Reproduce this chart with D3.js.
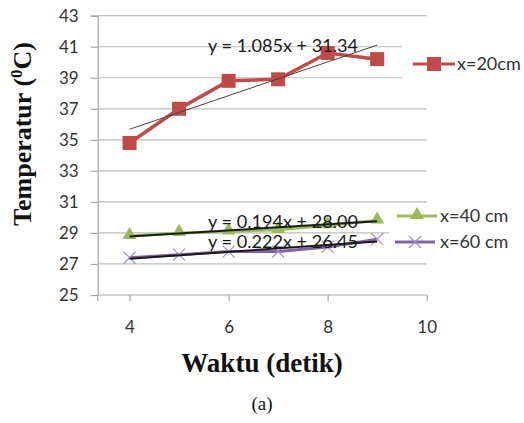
<!DOCTYPE html>
<html>
<head>
<meta charset="utf-8">
<script src="https://cdn.jsdelivr.net/npm/d3@7.9.0/dist/d3.min.js"></script>
<style>
  body { margin: 0; background: #fff; }
  svg { display: block; }
</style>
</head>
<body>
<svg id="chart" width="524" height="423"></svg>
<script>
// --- data ---
const times = [4, 5, 6, 7, 8, 9];
const temp20 = [34.8, 37.0, 38.8, 38.9, 40.6, 40.2];
const temp40 = [28.8, 29.0, 29.1, 29.2, 29.5, 29.8];
const temp60 = [27.4, 27.6, 27.8, 27.8, 28.1, 28.6];
const seriesNames = ['x=20cm', 'x=40 cm', 'x=60 cm'];
const trendSlopes = [1.085, 0.194, 0.222];
const trendIntercepts = [31.34, 28.00, 26.45];
const trendLabels = ['y = 1.085x + 31.34', 'y = 0.194x + 28.00', 'y = 0.222x + 26.45'];
const yTicks = [25, 27, 29, 31, 33, 35, 37, 39, 41, 43];
const xTicks = [4, 6, 8, 10];

const colors = ['#be4b48', '#9bbb59', '#8064a2'];
const svg = d3.select('#chart');

const plotLeft = 97.7, plotRight = 426.7, plotTop = 15.7, plotBottom = 295;
const x = d3.scaleLinear().domain([3.357, 10]).range([plotLeft, plotRight]);
const y = d3.scaleLinear().domain([25, 43]).range([plotBottom, plotTop]);

const tickFont = 'Lato, "Open Sans", sans-serif';

// gridlines
svg.append('g').selectAll('line')
  .data(yTicks.slice(1))
  .join('line')
  .attr('x1', plotLeft).attr('x2', plotRight)
  .attr('y1', d => y(d)).attr('y2', d => y(d))
  .attr('stroke', '#bdbdbd').attr('stroke-width', 1.2);

// y axis
const yAxis = svg.append('g')
  .attr('transform', `translate(${plotLeft},0)`)
  .call(d3.axisLeft(y).tickValues(yTicks).tickFormat(d3.format('d')).tickSize(7).tickPadding(12));
yAxis.select('.domain').attr('stroke', '#a6a6a6').attr('stroke-width', 1.2);
yAxis.selectAll('.tick line').attr('stroke', '#a6a6a6').attr('stroke-width', 1.2);
yAxis.selectAll('text').attr('font-family', tickFont).attr('font-size', 17).attr('fill', '#333');

// x axis
const xAxis = svg.append('g')
  .attr('transform', `translate(0,${plotBottom})`)
  .call(d3.axisBottom(x).tickValues(xTicks).tickFormat(d3.format('d')).tickSize(6).tickPadding(20).tickSizeOuter(0));
xAxis.select('.domain').attr('stroke', '#a6a6a6').attr('stroke-width', 1.2)
  .attr('d', `M${plotLeft},6V0H${plotRight}`);
xAxis.selectAll('.tick line').attr('stroke', '#a6a6a6').attr('stroke-width', 1.2);
xAxis.selectAll('text').attr('font-family', tickFont).attr('font-size', 17).attr('fill', '#333');

// white legend boxes that cover part of the gridlines
svg.append('rect').attr('x', 402).attr('y', 30).attr('width', 122).attr('height', 62).attr('fill', '#fff');
svg.append('rect').attr('x', 389).attr('y', 206).attr('width', 135).attr('height', 52).attr('fill', '#fff');

const series = [temp20, temp40, temp60].map((vals, i) => times.map((t, j) => [t, vals[j]]));

const line = d3.line().x(d => x(d[0])).y(d => y(d[1]));

// series lines
series.forEach((pts, i) => {
  svg.append('path')
    .datum(pts)
    .attr('d', line)
    .attr('fill', 'none')
    .attr('stroke', colors[i])
    .attr('stroke-width', i === 0 ? 3.5 : 3)
    .attr('stroke-linejoin', 'round');
});

// markers
const sq = d3.symbol().type(d3.symbolSquare).size(196);
const tri = d3.symbol().type(d3.symbolTriangle).size(85);
const cross = 'M-6,-6L6,6M-6,6L6,-6';
svg.append('g').selectAll('path')
  .data(series[0]).join('path')
  .attr('d', sq)
  .attr('transform', d => `translate(${x(d[0])},${y(d[1])})`)
  .attr('fill', colors[0]);
svg.append('g').selectAll('path')
  .data(series[1]).join('path')
  .attr('d', tri)
  .attr('transform', d => `translate(${x(d[0])},${y(d[1]) - 1})`)
  .attr('fill', colors[1]);
svg.append('g').selectAll('path')
  .data(series[2]).join('path')
  .attr('d', cross)
  .attr('transform', d => `translate(${x(d[0])},${y(d[1])})`)
  .attr('stroke', '#a48fc4').attr('stroke-width', 1.2).attr('fill', 'none');

// trendlines
trendSlopes.forEach((m, i) => {
  const pts = [4, 9].map(t => [t, m * t + trendIntercepts[i]]);
  svg.append('path')
    .datum(pts)
    .attr('d', line)
    .attr('stroke', i === 0 ? '#444' : '#1a1a1a')
    .attr('stroke-width', i === 0 ? 1 : 2)
    .attr('fill', 'none');
});

// trendline equations
const eqY = [52, 228, 248];
trendLabels.forEach((t, i) => {
  svg.append('text')
    .attr('x', 208).attr('y', eqY[i])
    .attr('font-family', tickFont).attr('font-size', 17).attr('fill', '#1a1a1a')
    .attr('textLength', 150).attr('lengthAdjust', 'spacingAndGlyphs')
    .text(t);
});

// legend
const legendRows = [
  { x1: 413, x2: 455, y: 64, tx: 457, ty: 70 },
  { x1: 397, x2: 437, y: 216, tx: 440, ty: 222 },
  { x1: 395, x2: 435, y: 242, tx: 440, ty: 248 }
];
legendRows.forEach((r, i) => {
  svg.append('line')
    .attr('x1', r.x1).attr('x2', r.x2).attr('y1', r.y).attr('y2', r.y)
    .attr('stroke', colors[i]).attr('stroke-width', 3);
  const cx = (r.x1 + r.x2) / 2;
  if (i === 0) {
    svg.append('path').attr('d', sq).attr('transform', `translate(${cx},${r.y})`).attr('fill', colors[0]);
  } else if (i === 1) {
    svg.append('path').attr('d', tri).attr('transform', `translate(${cx},${r.y - 1})`).attr('fill', colors[1]);
  } else {
    svg.append('path').attr('d', cross).attr('transform', `translate(${cx},${r.y})`)
      .attr('stroke', '#a48fc4').attr('stroke-width', 1.2).attr('fill', 'none');
  }
  svg.append('text')
    .attr('x', r.tx).attr('y', r.ty)
    .attr('font-family', tickFont).attr('font-size', 18).attr('fill', '#333')
    .text(seriesNames[i]);
});

// axis titles
const yTitle = svg.append('text')
  .attr('transform', 'translate(31,134) rotate(-90)')
  .attr('text-anchor', 'middle')
  .attr('font-family', '"Liberation Serif", "DejaVu Serif", serif')
  .attr('font-weight', 'bold').attr('font-size', 26).attr('fill', '#111');
yTitle.append('tspan').text('Temperatur (');
yTitle.append('tspan').attr('baseline-shift', 'super').attr('font-size', 17).text('0');
yTitle.append('tspan').text('C)');

svg.append('text')
  .attr('x', 262).attr('y', 372)
  .attr('text-anchor', 'middle')
  .attr('font-family', '"Liberation Serif", "DejaVu Serif", serif')
  .attr('font-weight', 'bold').attr('font-size', 27).attr('fill', '#111')
  .text('Waktu (detik)');

svg.append('text')
  .attr('x', 262).attr('y', 410)
  .attr('text-anchor', 'middle')
  .attr('font-family', '"Liberation Serif", "DejaVu Serif", serif')
  .attr('font-size', 19).attr('fill', '#111')
  .text('(a)');
</script>
</body>
</html>
